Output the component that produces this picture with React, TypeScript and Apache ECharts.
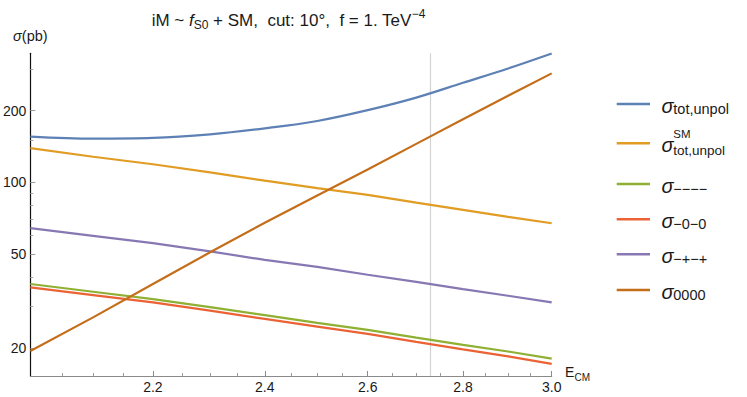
import React, { useEffect, useRef } from 'react';
import * as echarts from 'echarts';

// ---- data ----
const energies = [2.0, 2.1, 2.2, 2.3, 2.4, 2.5, 2.6, 2.7, 2.8, 2.9, 3.0];
const sigmaTotUnpol = [155.5, 152.5, 153.5, 159, 168.5, 181, 201, 227, 262, 301, 348];
const sigmaTotUnpolSM = [139, 128, 119, 110, 101.5, 94.5, 88.4, 82, 76.5, 71.5, 67.2];
const sigmaMMMM = [37.3, 34.6, 32.2, 29.8, 27.6, 25.6, 23.9, 22.2, 20.7, 19.4, 18.1];
const sigmaM0M0 = [36.1, 33.5, 31.2, 28.8, 26.6, 24.7, 23.0, 21.3, 19.8, 18.5, 17.2];
const sigmaMPMP = [64.1, 59.5, 55.4, 51.2, 47.1, 44.0, 40.8, 38.1, 35.5, 33.3, 31.2];
const sigma0000 = [19.5, 27.0, 37.3, 50.7, 67.5, 87.9, 113, 145, 184, 231, 287];

const seriesNames = ['σ_tot,unpol', 'σ^SM_tot,unpol', 'σ_−−−−', 'σ_−0−0', 'σ_−+−+', 'σ_0000'];
const seriesValues = [sigmaTotUnpol, sigmaTotUnpolSM, sigmaMMMM, sigmaM0M0, sigmaMPMP, sigma0000];
const legendSubs = ['tot,unpol', 'tot,unpol', '−−−−', '−0−0', '−+−+', '0000'];
const legendSups = ['', 'SM', '', '', '', ''];

const xMajorTicks = [2.2, 2.4, 2.6, 2.8, 3.0];
const xMinorTicks = [2.05, 2.1, 2.15, 2.25, 2.3, 2.35, 2.45, 2.5, 2.55, 2.65, 2.7, 2.75, 2.85, 2.9, 2.95];
const yMajorTicks = [20, 50, 100, 200];
const yMinorTicks = [30, 40, 60, 70, 80, 90, 150, 300];
const markerEnergy = 2.73;

const colors = ['#5E81B5', '#E19C24', '#8FB032', '#EB6235', '#8778B3', '#C56E1A'];
const FONT = '"Liberation Sans", Arial, sans-serif';

function measure(text: string, size: number, italic = false) {
  const ctx = document.createElement('canvas').getContext('2d')!;
  ctx.font = `${italic ? 'italic ' : ''}${size}px "Liberation Sans"`;
  return ctx.measureText(text).width;
}

function textAt(text: string, x: number, baseline: number, size: number, italic = false, color = '#1a1a1a') {
  return {
    type: 'text',
    x,
    y: baseline - 0.35 * size,
    silent: true,
    style: {
      text,
      fontSize: size,
      fontFamily: FONT,
      fontStyle: italic ? 'italic' : 'normal',
      fill: color,
      align: 'left',
      verticalAlign: 'middle',
    },
  };
}

type Run = { text: string; size: number; italic?: boolean; dy?: number };

function runLine(runs: Run[], centerX: number, baseline: number) {
  const widths = runs.map((r) => measure(r.text, r.size, r.italic));
  const total = widths.reduce((a, b) => a + b, 0);
  let x = centerX - total / 2;
  const out: any[] = [];
  runs.forEach((r, i) => {
    out.push(textAt(r.text, x, baseline + (r.dy || 0), r.size, r.italic));
    x += widths[i];
  });
  return out;
}

export default function App() {
  const ref = useRef<HTMLDivElement>(null);
  useEffect(() => {
    if (!ref.current) return;
    const chart = echarts.init(ref.current, undefined, { renderer: 'svg' });

    const gridLeft = 29.3;
    const gridTop = 53.3;
    const gridW = 522.4;
    const gridH = 322.7;
    const xMin = 2.0, xMax = 3.0, yMin = 15.3, yMax = 348.6;

    const titleRuns: Run[] = [
      { text: 'iM ~ ', size: 17 },
      { text: 'f', size: 17, italic: true },
      { text: 'S0', size: 12, dy: 3 },
      { text: ' + SM,  cut: 10°,  f = 1. TeV', size: 17 },
      { text: '−4', size: 12, dy: -8 },
    ];

    const graphics: any[] = [...runLine(titleRuns, 288.5, 26)];

    // E_CM axis name
    graphics.push(textAt('E', 565, 377, 14));
    graphics.push(textAt('CM', 574.5, 381, 10));

    // legend
    const legendY = [104, 143.3, 184, 219.3, 254.3, 290];
    legendY.forEach((ly, i) => {
      graphics.push({
        type: 'line',
        silent: true,
        shape: { x1: 616.7, y1: ly, x2: 650, y2: ly },
        style: { stroke: colors[i], lineWidth: 2.4 },
      });
      graphics.push(textAt('σ', 661.5, ly + 8.7, 20, true));
      if (legendSups[i]) {
        graphics.push(textAt(legendSups[i], 673.3, ly - 5, 11.5));
        graphics.push(textAt(legendSubs[i], 673.3, ly + 11.5, 13.5));
      } else {
        graphics.push(textAt(legendSubs[i], 673.3, ly + 10.2, 14.5));
      }
    });

    const axisCommon = {
      type: 'log' as const,
      logBase: 10,
      splitLine: { show: false },
    };

    chart.setOption({
      animation: false,
      grid: { left: gridLeft, top: gridTop, width: gridW, height: gridH, containLabel: false },
      xAxis: [
        {
          ...axisCommon,
          min: xMin,
          max: xMax,
          axisLine: { show: true, lineStyle: { color: '#8a8a8a', width: 1.2 } },
          axisTick: { show: true, inside: true, length: 5, customValues: xMajorTicks, lineStyle: { color: '#8a8a8a', width: 1 } },
          axisLabel: {
            show: true,
            customValues: xMajorTicks,
            formatter: (v: number) => v.toFixed(1),
            fontSize: 14,
            fontFamily: FONT,
            color: '#1a1a1a',
            margin: 4,
          },
        },
        {
          ...axisCommon,
          min: xMin,
          max: xMax,
          position: 'bottom',
          axisLine: { show: false },
          axisTick: { show: true, inside: true, length: 3, customValues: xMinorTicks, lineStyle: { color: '#9a9a9a', width: 1 } },
          axisLabel: { show: false },
        },
      ],
      yAxis: [
        {
          ...axisCommon,
          min: yMin,
          max: yMax,
          axisLine: { show: true, lineStyle: { color: '#111', width: 1.2 } },
          axisTick: { show: true, inside: true, length: 5, customValues: yMajorTicks, lineStyle: { color: '#9a9a9a', width: 1 } },
          axisLabel: {
            show: true,
            customValues: yMajorTicks,
            formatter: (v: number) => String(Math.round(v)),
            fontSize: 14,
            fontFamily: FONT,
            color: '#1a1a1a',
            margin: 4,
          },
          name: '{i|σ}{n|(pb)}',
          nameLocation: 'end',
          nameGap: 10,
          nameTextStyle: {
            align: 'center',
            rich: {
              i: { fontSize: 14.5, fontStyle: 'italic', fontFamily: FONT, color: '#1a1a1a' },
              n: { fontSize: 14.5, fontFamily: FONT, color: '#1a1a1a' },
            },
          },
        },
        {
          ...axisCommon,
          min: yMin,
          max: yMax,
          position: 'left',
          axisLine: { show: false },
          axisTick: { show: true, inside: true, length: 3, customValues: yMinorTicks, lineStyle: { color: '#a8a8a8', width: 1 } },
          axisLabel: { show: false },
        },
      ],
      series: seriesValues.map((vals, i) => ({
        name: seriesNames[i],
        type: 'line',
        xAxisIndex: 0,
        yAxisIndex: 0,
        data: energies.map((e, j) => [e, vals[j]]),
        showSymbol: false,
        smooth: i === 0 ? 0.35 : false,
        lineStyle: { color: colors[i], width: 2.2 },
        itemStyle: { color: colors[i] },
        z: 3,
        markLine:
          i === 0
            ? {
                silent: true,
                symbol: 'none',
                z: 1,
                label: { show: false },
                lineStyle: { color: '#d2d2d2', width: 1.2, type: 'solid' },
                data: [{ xAxis: markerEnergy }],
              }
            : undefined,
      })),
      graphic: graphics,
    });

    return () => chart.dispose();
  }, []);

  return <div ref={ref} style={{ position: 'absolute', left: 0, top: 0, width: 747, height: 397, background: '#fff' }} />;
}
